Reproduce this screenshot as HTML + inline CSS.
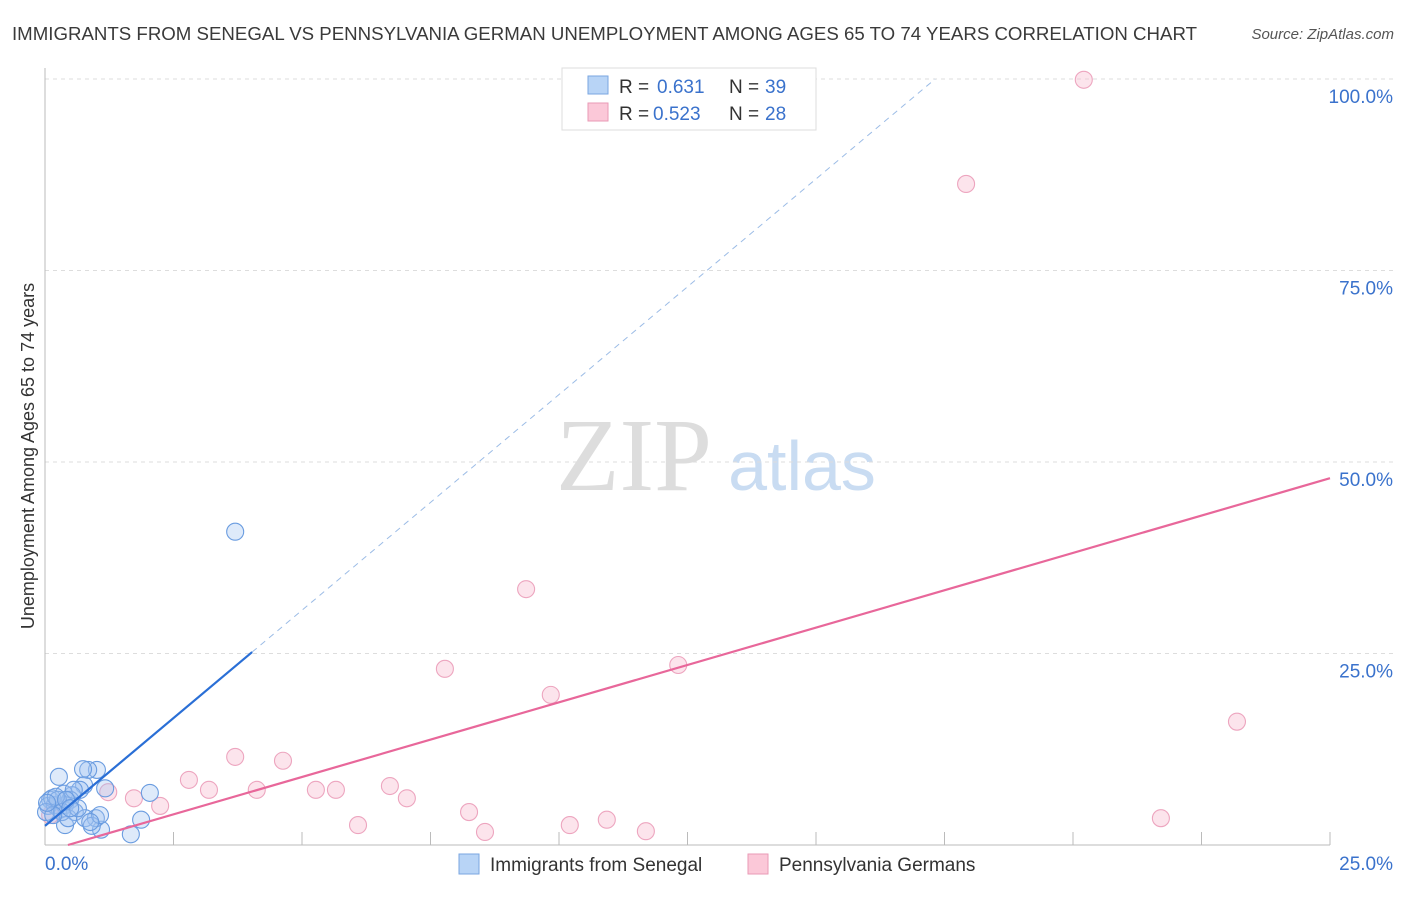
<!DOCTYPE html>
<html><head><meta charset="utf-8"><style>
body{margin:0;background:#fff;font-family:"Liberation Sans",sans-serif}
</style></head><body>
<svg id="chart" width="1406" height="892" xmlns="http://www.w3.org/2000/svg" font-family="Liberation Sans, sans-serif">
<text x="12" y="40" font-size="18.5" fill="#3a3a3a" textLength="1185" lengthAdjust="spacingAndGlyphs">IMMIGRANTS FROM SENEGAL VS PENNSYLVANIA GERMAN UNEMPLOYMENT AMONG AGES 65 TO 74 YEARS CORRELATION CHART</text>
<text x="1394" y="39" font-size="15" fill="#555" font-style="italic" text-anchor="end">Source: ZipAtlas.com</text>
<g>
<text x="634" y="490" font-size="104" fill="#ddd" font-family="Liberation Serif, serif" text-anchor="middle">ZIP</text>
<text x="802" y="490" font-size="70" fill="#c9dcf2" text-anchor="middle">atlas</text>
</g>
<g id="grid"></g>
<g id="axes"></g>
<g id="marks"></g>
<text transform="translate(34,456) rotate(-90)" font-size="18" fill="#333" text-anchor="middle">Unemployment Among Ages 65 to 74 years</text>
<g>
<rect x="562" y="68" width="254" height="62" fill="#fff" stroke="#ddd"/>
<rect x="588" y="76" width="20" height="18" fill="#b8d4f6" stroke="#7aa6e0"/>
<text x="619" y="93" font-size="19" fill="#333">R = </text><text x="657" y="93" font-size="19" fill="#3a72cc">0.631</text>
<text x="729" y="93" font-size="19" fill="#333">N = </text><text x="765" y="93" font-size="19" fill="#3a72cc">39</text>
<rect x="588" y="103" width="20" height="18" fill="#fbc8d8" stroke="#ea9ab6"/>
<text x="619" y="120" font-size="19" fill="#333">R = </text><text x="653" y="120" font-size="19" fill="#3a72cc">0.523</text>
<text x="729" y="120" font-size="19" fill="#333">N = </text><text x="765" y="120" font-size="19" fill="#3a72cc">28</text>
</g>
<g>
<rect x="459" y="854" width="20" height="20" fill="#b8d4f6" stroke="#7aa6e0"/>
<text x="490" y="871" font-size="19" fill="#333">Immigrants from Senegal</text>
<rect x="748" y="854" width="20" height="20" fill="#fbc8d8" stroke="#ea9ab6"/>
<text x="779" y="871" font-size="19" fill="#333">Pennsylvania Germans</text>
</g>
</svg>
<script>
const blueX=[3.70,2.04,1.87,1.67,1.09,0.99,1.01,0.84,0.74,0.27,0.76,0.68,0.53,0.37,0.10,0.06,0.19,0.29,0.39,0.49,0.58,0.78,0.91,0.39,1.17,1.07,0.14,0.25,0.02,0.33,0.45,0.64,0.16,0.88,0.56,0.21,0.41,0.04,0.49];
const blueY=[40.9,6.8,3.3,1.4,2.0,3.5,9.8,9.8,9.9,8.9,7.8,7.2,6.5,6.7,5.9,5.1,5.2,4.6,5.2,5.9,4.3,3.5,2.5,2.6,7.4,3.9,6.1,5.9,4.3,4.3,3.5,4.8,3.9,3.0,7.2,6.3,5.9,5.5,4.8];
const pinkX=[20.21,17.92,9.36,7.78,9.84,12.32,23.19,21.71,3.70,4.63,2.80,3.19,4.12,5.27,5.66,6.71,7.04,1.73,2.24,1.23,8.25,6.09,8.56,10.21,10.93,11.69,0.19,0.10];
const pinkY=[99.9,86.3,33.4,23.0,19.6,23.5,16.1,3.5,11.5,11.0,8.5,7.2,7.2,7.2,7.2,7.7,6.1,6.1,5.1,6.9,4.3,2.6,1.7,2.6,3.3,1.8,5.2,3.9];
const yTicks=[25,50,75,100];
const yTickLabels=["25.0%","50.0%","75.0%","100.0%"];
const blueTrend=[2.5,5.63];
const pinkTrend=[-0.87,1.95];
const NS="http://www.w3.org/2000/svg";
const xs=v=>45+v*51.4, ys=v=>845-v*7.66;
function mk(t,a,p){const e=document.createElementNS(NS,t);for(const k in a)e.setAttribute(k,a[k]);document.getElementById(p).appendChild(e);return e;}
yTicks.forEach((t,i)=>{
 const g=mk('line',{x1:45,x2:1394,y1:ys(t),y2:ys(t),stroke:'#ddd','stroke-dasharray':'4,4'},'grid');
 
 
 const l=mk('text',{x:1393,y:ys(t)+24,'font-size':19,fill:'#3a72cc','text-anchor':'end'},'axes');
 
 
 l.textContent=yTickLabels[i];
});
let a=mk('line',{x1:45,x2:45,y1:68,y2:845,stroke:'#bbb'},'axes');


a=mk('line',{x1:45,x2:1330,y1:845,y2:845,stroke:'#bbb'},'axes');


for(let i=1;i<=10;i++){const t=mk('line',{x1:xs(i*2.5),x2:xs(i*2.5),y1:832,y2:845,stroke:'#bbb'},'axes');
 
 }
[["0.0%",45,'start'],["25.0%",1393,'end']].forEach(d=>{const t=mk('text',{x:d[1],y:870,'font-size':19,fill:'#3a72cc','text-anchor':d[2]},'axes');
 
 
 t.textContent=d[0];});
pinkX.forEach((x,i)=>{const c=mk('circle',{cx:xs(x),cy:ys(pinkY[i]),r:8.5,fill:'rgba(248,187,208,0.4)',stroke:'#eda5bf','stroke-width':1.1},'marks');
 
 });
blueX.forEach((x,i)=>{const c=mk('circle',{cx:xs(x),cy:ys(blueY[i]),r:8.5,fill:'rgba(160,196,240,0.35)',stroke:'#6a9ce0','stroke-width':1.1},'marks');
 
 });
const bf=x=>blueTrend[0]+blueTrend[1]*x, pf=x=>pinkTrend[0]+pinkTrend[1]*x;
let l=mk('line',{x1:xs(0),y1:ys(bf(0)),x2:xs(4.03),y2:ys(bf(4.03)),stroke:'#2a6fd6','stroke-width':2.2},'marks');


const xe=(100-blueTrend[0])/blueTrend[1];
l=mk('line',{x1:xs(4.03),y1:ys(bf(4.03)),x2:xs(xe),y2:ys(100),stroke:'#9cbce6','stroke-width':1,'stroke-dasharray':'6,5'},'marks');


const x0=-pinkTrend[0]/pinkTrend[1];
l=mk('line',{x1:xs(x0),y1:ys(0),x2:xs(25),y2:ys(pf(25)),stroke:'#e8679a','stroke-width':2.2},'marks');


</script>
</body></html>
